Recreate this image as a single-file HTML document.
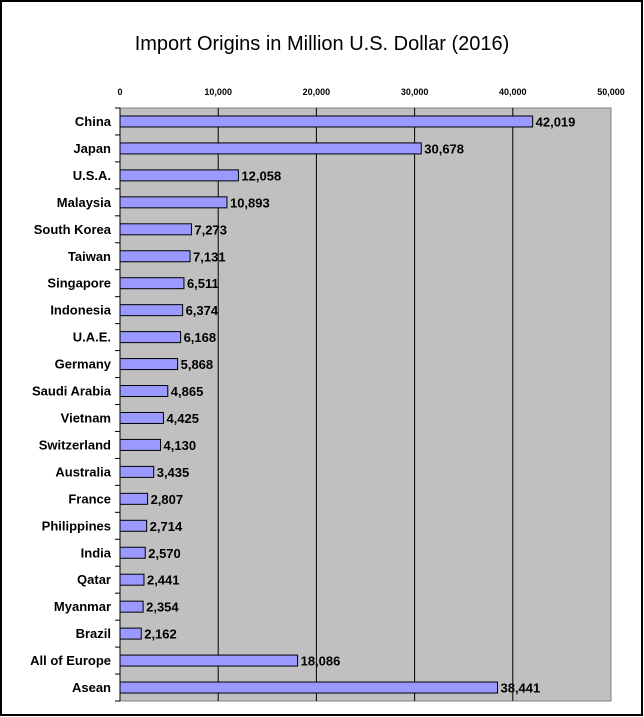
<!DOCTYPE html>
<html><head><meta charset="utf-8"><style>
html,body{margin:0;padding:0;background:#fff;}
svg{display:block;font-family:"Liberation Sans",Arial,sans-serif;}
</style></head><body>
<svg id="chart" width="644" height="717" xmlns="http://www.w3.org/2000/svg">
<rect x="1" y="1" width="641" height="714" fill="#fff" stroke="#000" stroke-width="2"/>
<text x="322" y="50" text-anchor="middle" font-size="20" font-weight="normal" fill="#000">Import Origins in Million U.S. Dollar (2016)</text>
<rect x="120" y="108" width="491" height="593" fill="#c0c0c0" stroke="#808080" stroke-width="1"/>
<g id="grid"></g><g id="bars"></g><g id="axis"></g>
</svg>
<script>
const categories=["China","Japan","U.S.A.","Malaysia","South Korea","Taiwan","Singapore","Indonesia","U.A.E.","Germany","Saudi Arabia","Vietnam","Switzerland","Australia","France","Philippines","India","Qatar","Myanmar","Brazil","All of Europe","Asean"];
const values=[42019,30678,12058,10893,7273,7131,6511,6374,6168,5868,4865,4425,4130,3435,2807,2714,2570,2441,2354,2162,18086,38441];
const ticks=[0,10000,20000,30000,40000,50000];
const NS="http://www.w3.org/2000/svg";
const X0=120,X1=611,Y0=108,Y1=701,MAX=50000;
const x=v=>X0+(v/MAX)*(X1-X0);
const band=(Y1-Y0)/categories.length;
const y=i=>Y0+i*band;
const fmt=v=>v.toLocaleString("en-US");
function mk(tag,attrs,parent,txt){const e=document.createElementNS(NS,tag);for(const k in attrs)e.setAttribute(k,attrs[k]);if(txt!==undefined)e.textContent=txt;parent.appendChild(e);return e;}
const grid=document.getElementById("grid"),bars=document.getElementById("bars"),axis=document.getElementById("axis");
ticks.forEach(t=>{
  if(t>0&&t<MAX){const l=mk("line",{x1:x(t),x2:x(t),y1:Y0,y2:Y1,stroke:"#000","stroke-width":1},grid);
  
  }
  const tl=mk("text",{x:x(t),y:95,"text-anchor":"middle","font-size":9,"font-weight":"bold"},axis,fmt(t));
  
  
});
const ax=mk("line",{x1:X0,x2:X0,y1:Y0,y2:Y1,stroke:"#000","stroke-width":1},axis);


for(let i=0;i<=categories.length;i++){
  const tk=mk("line",{x1:X0-5,x2:X0,y1:y(i),y2:y(i),stroke:"#000"},axis);
  
  
}
categories.forEach((c,i)=>{
  const cy=y(i)+band/2;
  const r=mk("rect",{x:X0,y:cy-5.5,width:x(values[i])-X0,height:11,fill:"#9999ff",stroke:"#000","stroke-width":1},bars);
  
  
  const lb=mk("text",{x:X0-9,y:cy+4.5,"text-anchor":"end","font-size":13,"font-weight":"bold"},axis,c);
  
  
  const vl=mk("text",{x:x(values[i])+3,y:cy+5,"font-size":13,"font-weight":"bold"},bars,fmt(values[i]));
  
  
});
</script>
</body></html>
